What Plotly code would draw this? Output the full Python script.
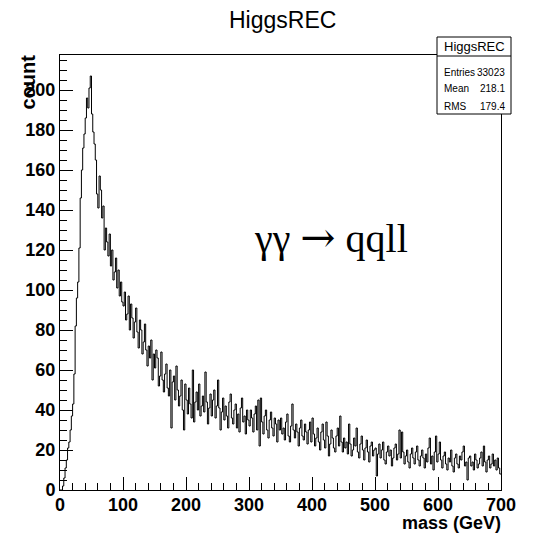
import numpy as np
import plotly.graph_objects as go

# ---------------- data ----------------
mass_min = 0.0
mass_max = 700.0
n_bins = 350  # 2 GeV bins

counts = (
    [0, 0, 2, 6, 11, 15, 21, 24, 30, 37, 43, 58, 82, 96, 104, 121, 146, 160, 171, 178, 186, 196, 191, 201, 207]
    + [188, 179, 173, 165, 148, 141, 157, 150, 136, 142, 120, 131, 124, 117, 128, 112, 120, 105, 109, 116, 101, 110, 97, 104, 94]
    + [92, 99, 85, 88, 97, 80, 93, 86, 76, 84, 91, 79, 71, 85, 80, 68, 74, 83, 70, 62, 72, 66, 75, 55, 68]
    + [61, 70, 66, 52, 57, 69, 55, 49, 58, 63, 51, 47, 60, 31, 54, 57, 45, 62, 50, 42, 47, 55, 40, 30, 53]
    + [45, 38, 51, 43, 36, 60, 34, 44, 49, 40, 53, 37, 42, 47, 39, 59, 44, 33, 41, 48, 37, 45, 50, 36, 42]
    + [55, 41, 30, 39, 46, 35, 42, 37, 31, 44, 48, 36, 33, 40, 43, 31, 38, 29, 41, 46, 34, 37, 28, 40, 35]
    + [32, 40, 36, 29, 38, 42, 30, 45, 22, 46, 34, 28, 37, 40, 30, 26, 35, 39, 31, 27, 36, 33, 24, 35, 30]
    + [36, 28, 31, 25, 34, 38, 27, 24, 32, 43, 30, 26, 33, 29, 22, 31, 35, 27, 25, 33, 29, 23, 30, 34, 24]
    + [36, 28, 22, 26, 31, 24, 20, 29, 33, 25, 21, 34, 27, 17, 23, 30, 26, 21, 19, 27, 31, 22, 37, 24, 19]
    + [26, 21, 24, 18, 33, 23, 17, 20, 26, 22, 31, 19, 16, 23, 27, 20, 15, 21, 25, 19, 14, 22, 24, 17, 20]
    + [21, 7, 18, 23, 16, 20, 24, 15, 13, 19, 22, 17, 20, 12, 16, 21, 23, 15, 18, 30, 16, 29, 19, 13, 17]
    + [20, 14, 11, 18, 21, 16, 13, 19, 22, 15, 12, 17, 20, 16, 11, 18, 14, 21, 26, 13, 17, 10, 19, 27, 14]
    + [18, 24, 15, 11, 17, 19, 13, 10, 16, 14, 20, 12, 9, 16, 18, 13, 11, 17, 15, 19, 22, 12, 14, 5, 16]
    + [17, 12, 14, 10, 18, 15, 11, 13, 16, 19, 12, 22, 14, 9, 15, 17, 11, 13, 18, 12, 15, 10, 16, 11, 8]
)

hist_title = "HiggsREC"
x_title = "mass (GeV)"
y_title = "count"
stats_labels = ["Entries", "Mean", "RMS"]
stats_values = ["33023", "218.1", "179.4"]
process_parts = ["γγ ", "→", " qqll"]
y_max = 217.5

# ---------------- geometry ----------------
W, H = 543, 534
ML, MR, MT, MB = 60, 42, 55, 44
FL, FR, FT, FB = ML, W - MR, MT, H - MB


def px(xp):
    return (xp - FL) / (FR - FL)


def py(yp):
    return (FB - yp) / (FB - FT)


edges = np.linspace(mass_min, mass_max, n_bins + 1)
xs = list(edges[:-1]) + [edges[-1]]
ys = list(counts) + [counts[-1]]

fig = go.Figure()
fig.add_trace(go.Scatter(x=xs, y=ys, mode="lines", line=dict(color="black", width=1, shape="hv"),
                         hoverinfo="skip", showlegend=False))

tickfont = dict(family="Liberation Sans", size=18, color="black", weight="bold")

fig.update_layout(
    width=W, height=H, autosize=False,
    margin=dict(l=ML, r=MR, t=MT, b=MB, pad=0),
    paper_bgcolor="white", plot_bgcolor="white",
    showlegend=False,
    xaxis=dict(range=[mass_min, mass_max], tick0=0, dtick=100, ticks="inside", ticklen=13,
               tickwidth=1, tickcolor="black", showline=True, linecolor="black", linewidth=1,
               mirror=True, showgrid=False, zeroline=False, tickfont=tickfont,
               ticklabelstandoff=-2,
               minor=dict(dtick=20, ticks="inside", ticklen=7, tickcolor="black", tickwidth=1, showgrid=False)),
    yaxis=dict(range=[0, y_max], tick0=0, dtick=20, ticks="inside", ticklen=13,
               tickwidth=1, tickcolor="black", showline=True, linecolor="black", linewidth=1,
               mirror=True, showgrid=False, zeroline=False, tickfont=tickfont,
               ticklabelstandoff=0,
               minor=dict(dtick=5, ticks="inside", ticklen=7, tickcolor="black", tickwidth=1, showgrid=False)),
)

# stats box
bx0, bx1, by0, by1, bsep = 437, 511, 37, 114, 56
fig.add_shape(type="rect", xref="paper", yref="paper", x0=px(bx0), x1=px(bx1), y0=py(by1), y1=py(by0),
              line=dict(color="black", width=1), fillcolor="white", layer="above")
fig.add_shape(type="line", xref="paper", yref="paper", x0=px(bx0), x1=px(bx1), y0=py(bsep), y1=py(bsep),
              line=dict(color="black", width=1), layer="above")

ann = []
ann.append(dict(text=hist_title, x=px(282), y=py(20), xref="paper", yref="paper", showarrow=False,
                xanchor="center", yanchor="middle", font=dict(family="Liberation Sans", size=23, color="black")))
ann.append(dict(text=hist_title, x=px((bx0 + bx1) / 2), y=py(46.5), xref="paper", yref="paper", showarrow=False,
                xanchor="center", yanchor="middle", font=dict(family="Liberation Sans", size=13, color="black")))
row_y = [72, 89, 106]
for lab, val, ry in zip(stats_labels, stats_values, row_y):
    ann.append(dict(text=lab, x=px(442), y=py(ry), xref="paper", yref="paper", showarrow=False,
                    xanchor="left", yanchor="middle", font=dict(family="Liberation Sans", size=10, color="black")))
    ann.append(dict(text=val, x=px(507), y=py(ry), xref="paper", yref="paper", showarrow=False,
                    xanchor="right", yanchor="middle", font=dict(family="Liberation Sans", size=10, color="black")))
ann.append(dict(text=x_title, x=px(503), y=py(523), xref="paper", yref="paper", showarrow=False,
                xanchor="right", yanchor="middle",
                font=dict(family="Liberation Sans", size=18, color="black", weight="bold")))
ann.append(dict(text=y_title, x=px(28), y=py(82.5), xref="paper", yref="paper", showarrow=False,
                textangle=-90, xanchor="center", yanchor="middle",
                font=dict(family="Liberation Sans", size=20, color="black", weight="bold")))
proc_text = (process_parts[0]
             + '<span style="font-family:\'DejaVu Serif\'; font-size:42px">' + process_parts[1] + '</span>'
             + process_parts[2])
ann.append(dict(text=proc_text, x=px(331), y=py(238), xref="paper", yref="paper", showarrow=False,
                xanchor="center", yanchor="middle",
                font=dict(family="Liberation Serif", size=40, color="black")))
fig.update_layout(annotations=ann)

fig.write_html("out.html")
